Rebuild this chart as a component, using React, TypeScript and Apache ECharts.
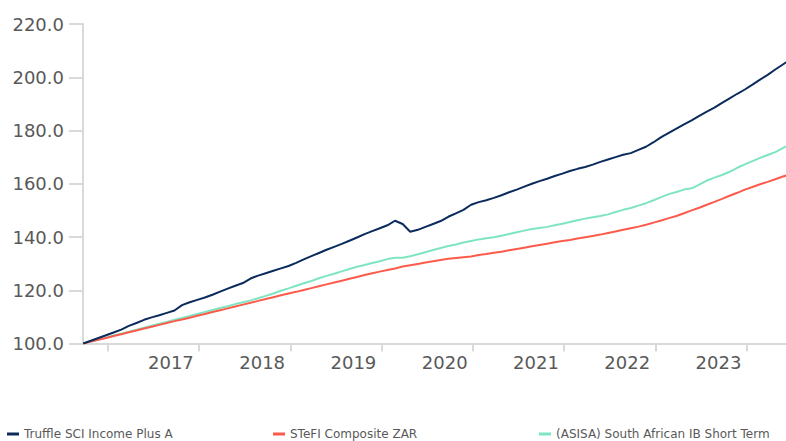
import { useEffect, useRef } from "react";
import * as echarts from "echarts";

// Monthly observations, first month = Sep 2016
const startYear = 2016;
const startMonthIndex = 8; // September (0-based)

const truffle = [
  100.0, 101.05, 102.07, 103.08, 104.14, 105.2, 106.6, 107.7, 108.9, 109.8,
  110.6, 111.5, 112.4, 114.4, 115.5, 116.4, 117.3, 118.3, 119.5, 120.6,
  121.7, 122.7, 124.4, 125.5, 126.4, 127.3, 128.2, 129.1, 130.3, 131.6,
  132.8, 134.0, 135.2, 136.3, 137.4, 138.6, 139.8, 141.1, 142.2, 143.3,
  144.4, 146.1, 144.9, 142.0, 142.7, 143.8, 144.9, 146.0, 147.6, 148.9,
  150.2, 152.1, 153.1, 153.8, 154.7, 155.7, 156.8, 157.8, 158.9, 160.0,
  161.0, 161.9, 162.9, 163.8, 164.8, 165.6, 166.3, 167.2, 168.2, 169.1,
  170.0, 170.9, 171.5, 172.7, 173.9, 175.6, 177.5, 179.1, 180.7, 182.3,
  183.8, 185.5, 187.1, 188.6, 190.4, 192.1, 193.8, 195.4, 197.2, 199.1,
  200.9, 202.9, 204.8, 206.7,
];

const stefi = [
  100.0, 100.7, 101.4, 102.1, 102.8, 103.5, 104.2, 104.9, 105.6, 106.3,
  107.0, 107.7, 108.4, 109.0, 109.7, 110.4, 111.1, 111.8, 112.5, 113.2,
  113.9, 114.6, 115.3, 116.0, 116.7, 117.4, 118.1, 118.8, 119.4, 120.1,
  120.8, 121.5, 122.2, 122.9, 123.6, 124.3, 125.0, 125.7, 126.4, 127.0,
  127.6, 128.2, 128.9, 129.4, 129.9, 130.4, 130.9, 131.4, 131.8, 132.1,
  132.4, 132.7, 133.2, 133.6, 134.1, 134.5, 135.0, 135.5, 136.0, 136.5,
  137.0, 137.5, 138.0, 138.5, 138.9, 139.4, 139.9, 140.4, 140.9, 141.5,
  142.1, 142.7, 143.3, 143.9, 144.6, 145.4, 146.2, 147.1, 147.9, 148.9,
  150.0, 151.0, 152.1, 153.2, 154.3, 155.5, 156.6, 157.8, 158.8, 159.8,
  160.7, 161.7, 162.7, 163.6,
];

const asisa = [
  100.0, 100.8, 101.5, 102.2, 103.0, 103.7, 104.4, 105.2, 105.9, 106.7,
  107.4, 108.1, 108.9, 109.6, 110.3, 111.1, 111.8, 112.6, 113.3, 114.0,
  114.8, 115.5, 116.2, 117.0, 117.9, 118.8, 119.8, 120.7, 121.7, 122.6,
  123.5, 124.5, 125.4, 126.2, 127.1, 128.0, 128.8, 129.5, 130.2, 130.9,
  131.7, 132.2, 132.2, 132.8, 133.5, 134.3, 135.1, 135.9, 136.6, 137.2,
  137.9, 138.5, 139.1, 139.5, 139.9, 140.5, 141.1, 141.8, 142.4, 143.0,
  143.4, 143.8, 144.4, 145.0, 145.6, 146.3, 146.9, 147.4, 147.9, 148.5,
  149.4, 150.2, 150.9, 151.8, 152.7, 153.8, 155.0, 156.1, 156.9, 157.8,
  158.3, 159.7, 161.2, 162.3, 163.3, 164.5, 166.0, 167.3, 168.5, 169.7,
  170.8, 171.9, 173.4, 174.9,
];

const seriesNames = [
  "Truffle SCI Income Plus A",
  "STeFI Composite ZAR",
  "(ASISA) South African IB Short Term",
];
const seriesColors = ["#0b2b5c", "#fc5b4c", "#7fe5c1"];

const yearTicks = [2017, 2018, 2019, 2020, 2021, 2022, 2023, 2024];
const yearLabels = [2017, 2018, 2019, 2020, 2021, 2022, 2023];

const xMin = 2016.727;
const xMax = 2024.43;

function toX(i: number) {
  return startYear + (startMonthIndex + i + 0.75) / 12;
}

function pairs(values: number[]) {
  return values.map((v, i) => [toX(i), v]);
}

const FONT = "DejaVu Sans";
const GREY = "#595959";
const AXIS = "#d9d9d9";

export default function App() {
  const ref = useRef<HTMLDivElement>(null);

  useEffect(() => {
    document.body.style.margin = "0";
    if (!ref.current) return;
    const chart = echarts.init(ref.current, undefined, { renderer: "svg" });
    const lefts = [7, 273, 539];
    chart.setOption({
      animation: false,
      grid: {
        left: 83,
        right: 0,
        top: 24,
        bottom: 97.5,
        containLabel: false,
        outerBoundsMode: "none",
      },
      legend: seriesNames.map((n, i) => ({
        data: [n],
        left: lefts[i],
        top: 428,
        icon: "rect",
        itemWidth: 12,
        itemHeight: 3,
        padding: 0,
        textStyle: { fontFamily: FONT, fontSize: 12, color: GREY },
      })),
      xAxis: {
        type: "value",
        min: xMin,
        max: xMax,
        splitLine: { show: false },
        axisLine: { show: true, lineStyle: { color: AXIS, width: 2 } },
        axisTick: {
          show: true,
          customValues: yearTicks,
          length: 8,
          lineStyle: { color: AXIS, width: 2 },
        },
        axisLabel: {
          customValues: yearLabels.map((y) => y + 0.69),
          formatter: (v: number) => String(Math.floor(v)),
          fontFamily: FONT,
          fontSize: 18,
          color: GREY,
          margin: 10,
        },
      },
      yAxis: {
        type: "value",
        min: 100,
        max: 220,
        interval: 20,
        splitLine: { show: false },
        axisLine: { show: true, lineStyle: { color: AXIS, width: 2 } },
        axisTick: { show: true, length: 14, lineStyle: { color: AXIS, width: 2 } },
        axisLabel: {
          formatter: (v: number) => v.toFixed(1),
          fontFamily: FONT,
          fontSize: 18,
          color: GREY,
          margin: 19,
        },
      },
      series: [
        {
          name: seriesNames[2],
          type: "line",
          data: pairs(asisa),
          showSymbol: false,
          color: seriesColors[2],
          lineStyle: { width: 2, color: seriesColors[2] },
          z: 2,
        },
        {
          name: seriesNames[1],
          type: "line",
          data: pairs(stefi),
          showSymbol: false,
          color: seriesColors[1],
          lineStyle: { width: 2, color: seriesColors[1] },
          z: 3,
        },
        {
          name: seriesNames[0],
          type: "line",
          data: pairs(truffle),
          showSymbol: false,
          color: seriesColors[0],
          lineStyle: { width: 2, color: seriesColors[0] },
          z: 4,
        },
      ],
    });
    return () => chart.dispose();
  }, []);

  return <div ref={ref} style={{ width: 786, height: 441 }} />;
}
